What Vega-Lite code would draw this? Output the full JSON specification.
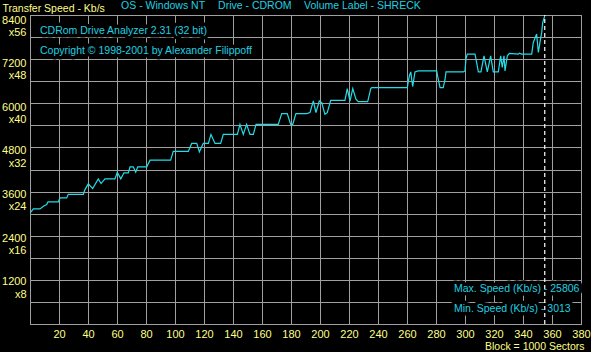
{
  "$schema": "https://vega.github.io/schema/vega-lite/v6.json",
  "width": 551,
  "height": 309,
  "autosize": {"type": "none"},
  "padding": {"left": 30, "top": 15, "right": 10, "bottom": 28},
  "background": "#000000",
  "config": {
    "view": {"stroke": "#a0a0a0", "strokeWidth": 1},
    "font": "Liberation Sans"
  },
  "datasets": {
    "speed": [
      {"x":0,"y":3013},{"x":2.3,"y":3128},{"x":6.9,"y":3128},{"x":9.2,"y":3199},{"x":11.5,"y":3245},{"x":12.4,"y":3319},{"x":19.5,"y":3319},{"x":20.7,"y":3428},{"x":25.3,"y":3428},{"x":26.4,"y":3526},{"x":36.8,"y":3526},{"x":37.9,"y":3654},{"x":40.2,"y":3810},{"x":43.2,"y":3681},{"x":47.1,"y":3946},{"x":49.0,"y":3818},{"x":51.7,"y":3946},{"x":58.6,"y":3946},{"x":60.2,"y":4126},{"x":62.6,"y":3946},{"x":64.8,"y":4110},{"x":67.8,"y":4110},{"x":69.0,"y":4273},{"x":71.2,"y":4273},{"x":72.9,"y":4126},{"x":74.3,"y":4273},{"x":80.5,"y":4273},{"x":82.8,"y":4453},{"x":97.0,"y":4453},{"x":98.8,"y":4691},{"x":109.2,"y":4691},{"x":111.5,"y":4909},{"x":115.0,"y":4909},{"x":116.8,"y":4682},{"x":119.5,"y":4909},{"x":123.0,"y":4909},{"x":124.8,"y":5154},{"x":127.6,"y":4909},{"x":131.5,"y":4909},{"x":133.3,"y":5154},{"x":143.0,"y":5154},{"x":144.8,"y":5427},{"x":147.1,"y":5154},{"x":149.4,"y":5427},{"x":151.7,"y":5154},{"x":154.0,"y":5154},{"x":155.9,"y":5427},{"x":171.2,"y":5427},{"x":173.6,"y":5719},{"x":177.4,"y":5719},{"x":179.8,"y":5427},{"x":181.2,"y":5427},{"x":183.4,"y":5719},{"x":190.8,"y":5719},{"x":193.1,"y":5746},{"x":195.4,"y":6062},{"x":197.2,"y":5746},{"x":199.5,"y":6062},{"x":201.2,"y":6019},{"x":203.4,"y":5700},{"x":205.0,"y":5746},{"x":207.4,"y":6081},{"x":217.2,"y":6081},{"x":218.8,"y":6400},{"x":220.7,"y":6062},{"x":222.6,"y":6400},{"x":224.8,"y":6109},{"x":226.4,"y":6046},{"x":232.9,"y":6046},{"x":235.0,"y":6400},{"x":235.7,"y":6428},{"x":260.2,"y":6428},{"x":261.6,"y":6744},{"x":262.6,"y":6853},{"x":263.9,"y":6455},{"x":265.5,"y":6853},{"x":267.8,"y":6880},{"x":280.5,"y":6880},{"x":281.6,"y":6640},{"x":282.8,"y":6428},{"x":285.0,"y":6428},{"x":286.2,"y":6640},{"x":286.9,"y":6853},{"x":298.8,"y":6853},{"x":300.0,"y":6880},{"x":300.7,"y":7219},{"x":301.6,"y":7336},{"x":306.9,"y":7336},{"x":307.6,"y":7200},{"x":309.2,"y":6853},{"x":311.0,"y":6853},{"x":313.1,"y":7290},{"x":315.4,"y":6853},{"x":317.7,"y":7290},{"x":319.5,"y":6853},{"x":323.0,"y":6853},{"x":324.6,"y":7290},{"x":325.7,"y":6973},{"x":326.9,"y":7290},{"x":327.6,"y":6880},{"x":329.2,"y":7290},{"x":330.6,"y":7355},{"x":336.8,"y":7336},{"x":337.4,"y":7363},{"x":339.1,"y":7336},{"x":346.0,"y":7336},{"x":347.1,"y":7655},{"x":349.4,"y":7881},{"x":350.6,"y":7382},{"x":351.7,"y":7655},{"x":352.9,"y":7927},{"x":353.6,"y":8200},{"x":354.7,"y":8336},{"x":355.4,"y":8450}
    ],
    "marker": [{"x": 355, "y": 0, "y2": 8400}],
    "notes": [
      {"x": 6.9, "y": 7963, "label": "CDRom Drive Analyzer 2.31 (32 bit)"},
      {"x": 6.9, "y": 7426, "label": "Copyright © 1998-2001 by Alexander Filippoff"},
      {"x": 292.4, "y": 954, "label": "Max. Speed (Kb/s) - 25806"},
      {"x": 292.4, "y": 409, "label": "Min.  Speed (Kb/s) - 3013"}
    ],
    "header": [
      {"x": 62.8, "y": 8636, "label": "OS - Windows NT"},
      {"x": 129.7, "y": 8636, "label": "Drive - CDROM"},
      {"x": 189.0, "y": 8636, "label": "Volume Label - SHRECK"}
    ]
  },
  "encoding": {
    "x": {
      "field": "x", "type": "quantitative",
      "scale": {"domain": [0, 380], "nice": false, "zero": false},
      "axis": {
        "values": [0,20,40,60,80,100,120,140,160,180,200,220,240,260,280,300,320,340,360,380],
        "grid": true,
        "ticks": false,
        "domainColor": "#a0a0a0",
        "gridColor": "#a0a0a0",
        "gridOpacity": 1,
        "gridWidth": 1,
        "labelColor": "#ffff88",
        "labelFontSize": 11,
        "labelFont": "Liberation Sans",
        "labelPadding": 4,
        "labelFlush": false,
        "labelOverlap": false,
        "labelExpr": "datum.value == 0 ? '' : datum.label",
        "format": "d",
        "titleColor": "#ffff88",
        "titleFont": "Liberation Sans",
        "titleFontSize": 10.5,
        "titleFontWeight": "normal",
        "titleAnchor": "end",
        "titleAlign": "right",
        "titleBaseline": "alphabetic",
        "titleX": 554,
        "titleY": 25.5
      },
      "title": "Block = 1000 Sectors"
    },
    "y": {
      "field": "y", "type": "quantitative",
      "scale": {"domain": [0, 8400], "nice": false, "zero": false},
      "axis": {
        "values": [0,600,1200,1800,2400,3000,3600,4200,4800,5400,6000,6600,7200,7800,8400],
        "grid": true,
        "ticks": false,
        "domainColor": "#a0a0a0",
        "gridColor": "#a0a0a0",
        "gridOpacity": 1,
        "gridWidth": 1,
        "labelColor": "#ffff88",
        "labelFontSize": 11,
        "labelFont": "Liberation Sans",
        "labelPadding": 4,
        "labelAlign": "right",
        "labelBaseline": "alphabetic",
        "labelOffset": {"expr": "5 + (datum.value - 1200) / 2400"},
        "labelLineHeight": 12.2,
        "labelOverlap": false,
        "labelFlush": false,
        "format": "d",
        "labelExpr": "datum.value > 0 && datum.value % 1200 == 0 ? [datum.label, 'x' + (datum.value / 150)] : ''",
        "titleColor": "#ffff88",
        "titleFont": "Liberation Sans",
        "titleFontSize": 10.5,
        "titleFontWeight": "normal",
        "titleAngle": 0,
        "titleAlign": "left",
        "titleBaseline": "alphabetic",
        "titleX": -28,
        "titleY": -4
      },
      "title": "Transfer Speed - Kb/s"
    }
  },
  "layer": [
    {
      "data": {"name": "speed"},
      "mark": {"type": "line", "color": "#22dde8", "strokeWidth": 1.2, "clip": true}
    },
    {
      "data": {"name": "notes"},
      "mark": {"type": "text", "align": "left", "baseline": "middle", "fill": "#000000", "stroke": "#000000", "strokeWidth": 7, "strokeJoin": "round", "fontSize": 10.5, "font": "Liberation Sans"},
      "encoding": {"text": {"field": "label"}}
    },
    {
      "data": {"name": "notes"},
      "mark": {"type": "text", "align": "left", "baseline": "middle", "color": "#20d0e0", "fontSize": 10.5, "font": "Liberation Sans"},
      "encoding": {"text": {"field": "label"}}
    },
    {
      "data": {"name": "header"},
      "mark": {"type": "text", "align": "left", "baseline": "middle", "color": "#20d0e0", "fontSize": 10.5, "font": "Liberation Sans", "clip": false},
      "encoding": {"text": {"field": "label"}}
    },
    {
      "data": {"name": "marker"},
      "mark": {"type": "rule", "color": "#ffffff", "strokeDash": [4, 3], "strokeWidth": 1.2},
      "encoding": {"y2": {"field": "y2"}}
    }
  ]
}
